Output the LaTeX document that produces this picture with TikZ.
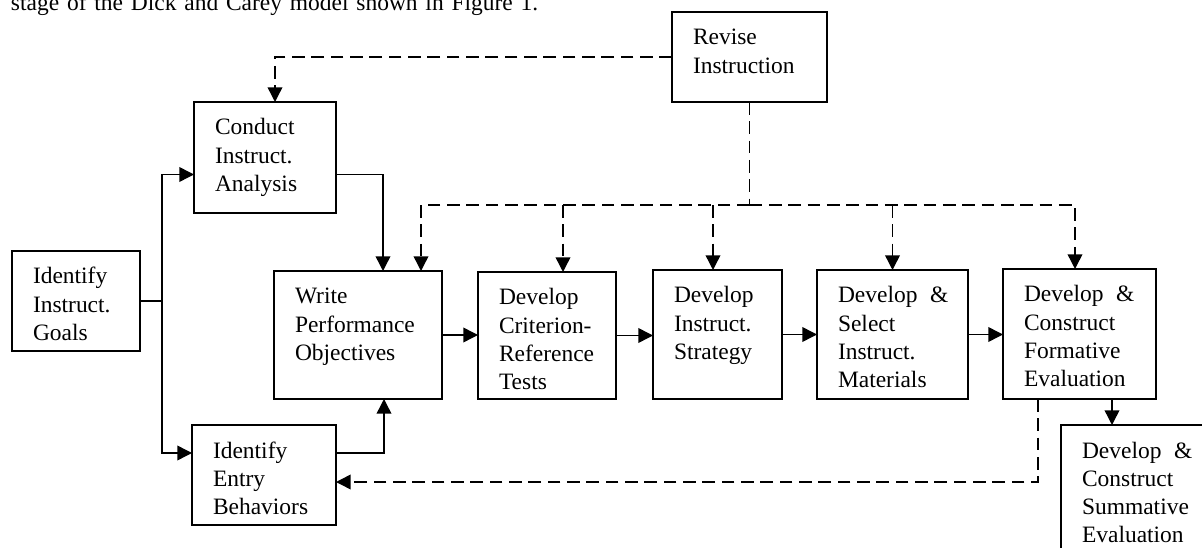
\documentclass[tikz,border=0pt]{standalone}
\usepackage{fontspec}
\setmainfont{Liberation Serif}
\usetikzlibrary{arrows.meta,calc}
\newcommand{\mkbox}[6]{%
  \node[box, minimum width={(#4-#2)*0.75pt}, minimum height={(#5-#3)*0.75pt}] (#1) at (#2,#3) {};
  \node[txt] (#1-t) at ($(#2,#3)+(21,33)$) {#6};
}
\begin{document}
\begin{tikzpicture}[x=0.75pt,y=-0.75pt,
  box/.style={draw, line width=1.4pt, inner sep=0pt, outer sep=0pt, anchor=north west},
  txt/.style={inner sep=0pt, outer sep=0pt, anchor=base west, text width=150pt, align=left, font=\fontsize{17.6pt}{21.2pt}\selectfont},
  plain/.style={line width=1.1pt},
  conn/.style={line width=1.1pt, -{Triangle[length=11pt,width=11pt]}},
  dsh/.style={line width=1.1pt, dash pattern=on 9.5pt off 5pt},
  dconn/.style={dsh, -{Triangle[length=11pt,width=11pt]}},
]
\useasboundingbox (0,0) rectangle (1202,548);
\clip (0,0) rectangle (1202,548);

\node[txt, text width=700pt] (head) at (11,11) {stage of the Dick and Carey model shown in Figure 1.};

\mkbox{revise}{672}{12}{827}{102}{Revise\\Instruction}
\mkbox{conduct}{194}{102}{336}{213}{Conduct\\Instruct.\\Analysis}
\mkbox{goals}{12}{251}{140}{351}{Identify\\Instruct.\\Goals}
\mkbox{write}{274}{271}{442}{399}{Write\\Performance\\Objectives}
\mkbox{crit}{478}{272}{616}{399}{Develop\\Criterion-\\Reference\\Tests}
\mkbox{strat}{653}{270}{782}{399}{Develop\\Instruct.\\Strategy}
\mkbox{mat}{817}{270}{968}{399}{Develop\hspace{9.4pt}\&\\Select\\Instruct.\\Materials}
\mkbox{form}{1003}{269}{1156}{399}{Develop\hspace{9.4pt}\&\\Construct\\Formative\\Evaluation}
\mkbox{summ}{1061}{425}{1216}{565}{Develop\hspace{9.4pt}\&\\Construct\\Summative\\Evaluation}
\mkbox{entry}{192}{425}{336}{525}{Identify\\Entry\\Behaviors}

% solid connectors
\coordinate (trunk) at (162,301);
\draw[plain] (goals.east) -- (trunk);
\draw[conn] (trunk) |- ($(conduct.west)+(0,17)$);
\draw[conn] (trunk) |- ($(entry.west)+(0,-22)$);
\draw[conn] ($(conduct.east)+(0,17)$) -| ($(write.north)+(25,0)$);
\draw[conn] ($(entry.east)+(0,-22)$) -| ($(write.south)+(26,0)$);
\draw[conn] (write.east) -- (write.east -| crit.west);
\draw[conn] (crit.east) -- (crit.east -| strat.west);
\draw[conn] (strat.east) -- (strat.east -| mat.west);
\draw[conn] (mat.east) -- (mat.east -| form.west);
\coordinate (fs) at ($(form.south)+(32.5,0)$);
\draw[conn] (fs) -- (fs |- summ.north);

% dashed connectors
\draw[dconn] (revise.west) -| ($(conduct.north)+(10,0)$);
\coordinate (j) at (revise.south |- 0,205);
\draw[dsh] (revise.south) -- (j);
\draw[dconn] (j) -| ($(write.north)+(63,0)$);
\draw[dconn] (j) -| ($(form.north)+(-4.5,0)$);
\coordinate (dc) at ($(crit.north)+(16,0)$);
\draw[dconn] (dc |- j) -- (dc);
\coordinate (ds) at ($(strat.north)+(-4.5,0)$);
\draw[dconn] (ds |- j) -- (ds);
\coordinate (dm) at (mat.north);
\draw[dconn] (dm |- j) -- (dm);
\coordinate (fd) at ($(form.south)+(-41.5,0)$);
\draw[dconn] (fd) |- ($(entry.east)+(0,7)$);
\end{tikzpicture}
\end{document}
